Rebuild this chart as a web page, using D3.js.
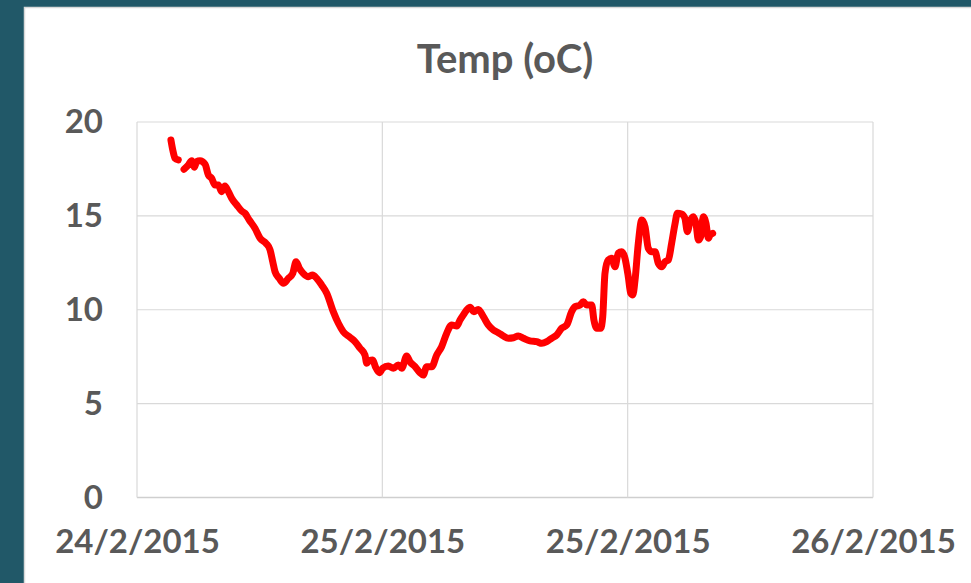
<!DOCTYPE html>
<html><head><meta charset="utf-8">
<script src="https://cdn.jsdelivr.net/npm/d3@7"></script>
<style>html,body{margin:0;padding:0;background:#215868;} svg{display:block}</style>
</head><body><svg id="c" width="971" height="583"></svg>
<script>
const title = "Temp (oC)";
// hours since 24/2/2015 00:00
const hours = [13.66,13.75,13.86,14.02,14.15,14.30,14.51,14.68,14.80,14.92,15.08,15.33,15.49,15.65,15.82,15.98,16.14,16.30,16.47,16.63,16.88,17.12,17.28,17.49,17.77,18.02,18.31,18.51,18.64,18.75,18.96,19.16,19.40,19.62,19.78,19.94,20.13,20.38,20.59,20.79,21.03,21.28,21.60,21.85,22.09,22.42,22.66,22.91,23.15,23.24,23.36,23.53,23.66,23.85,24.02,24.29,24.54,24.78,24.95,25.19,25.35,25.60,25.84,26.00,26.17,26.42,26.66,26.90,27.15,27.39,27.64,27.80,27.96,28.29,28.48,28.69,28.94,29.18,29.43,29.67,29.92,30.16,30.41,30.65,30.90,31.22,31.55,31.80,32.04,32.28,32.53,32.77,33.02,33.26,33.42,33.67,33.83,34.00,34.24,34.35,34.49,34.68,34.78,34.89,35.05,35.22,35.38,35.54,35.71,35.87,36.03,36.15,36.25,36.36,36.52,36.69,36.85,37.01,37.18,37.34,37.50,37.67,37.83,37.99,38.15,38.32,38.43,38.64,38.80,38.92,39.05,39.21,39.34,39.46,39.57,39.70,39.83,39.95,40.03,40.16];
const temps = [19.04,18.51,18.07,17.98,null,17.48,17.71,17.94,17.59,17.89,17.94,17.75,17.18,17.00,16.64,16.64,16.29,16.59,16.29,15.94,15.58,15.26,15.14,14.78,14.34,13.81,13.54,13.18,12.56,12.03,11.67,11.41,11.67,11.94,12.56,12.21,11.94,11.76,11.85,11.67,11.32,10.88,9.90,9.28,8.83,8.53,8.30,7.95,7.59,7.15,7.29,7.32,6.97,6.65,6.88,7.00,6.88,7.06,6.88,7.54,7.23,6.97,6.65,6.52,6.97,6.97,7.59,8.03,8.75,9.19,9.13,9.45,9.72,10.13,9.90,10.02,9.63,9.19,8.92,8.78,8.60,8.48,8.51,8.60,8.48,8.34,8.30,8.21,8.30,8.48,8.66,9.01,9.19,9.90,10.16,10.25,10.43,10.25,10.25,9.45,9.01,9.01,9.63,11.94,12.65,12.74,12.29,13.01,13.09,12.74,11.76,10.88,10.79,11.58,13.54,14.78,14.42,13.27,13.09,13.09,12.47,12.29,12.56,12.65,13.54,14.60,15.14,15.10,14.87,14.16,14.69,14.96,14.60,13.72,13.89,14.96,14.60,13.81,13.98,14.07];
const xTickHours = [12, 24, 36, 48];
const xTickLabels = ["24/2/2015", "25/2/2015", "25/2/2015", "26/2/2015"];
const yTicks = [0, 5, 10, 15, 20];

const base = new Date(2015, 1, 24, 0, 0, 0).getTime();
const toDate = h => new Date(base + h * 3600e3);
const data = hours.map((h, i) => ({t: toDate(h), v: temps[i]}));

const svg = d3.select("#c");
const W = 971, H = 583;
// white panel
svg.append("rect").attr("x", 24.5).attr("y", 7.5).attr("width", W).attr("height", H)
  .attr("fill", "#fff").attr("stroke", "#d9d9d9").attr("stroke-width", 1.5);

const m = {l: 137, r: 873, t: 122, b: 497.5};
const x = d3.scaleTime().domain([toDate(xTickHours[0]), toDate(xTickHours[3])]).range([m.l, m.r]);
const y = d3.scaleLinear().domain([0, 20]).range([m.b, m.t]);

const txt = "#595959";
const font = "Lato, 'Open Sans', sans-serif";

// grid
const g = svg.append("g");
g.selectAll("line.h").data(yTicks).join("line")
  .attr("x1", m.l).attr("x2", m.r).attr("y1", d => y(d)).attr("y2", d => y(d))
  .attr("stroke", d => d === 0 ? "#cfcfcf" : "#d9d9d9").attr("stroke-width", d => d === 0 ? 1.6 : 1.2);
g.selectAll("line.v").data(xTickHours).join("line")
  .attr("x1", d => x(toDate(d))).attr("x2", d => x(toDate(d))).attr("y1", m.t).attr("y2", m.b)
  .attr("stroke", "#d9d9d9").attr("stroke-width", 1.2);

// y axis labels
const yAxis = d3.axisLeft(y).tickValues(yTicks).tickSize(0).tickPadding(34);
const ya = svg.append("g").attr("transform", `translate(${m.l},0)`).call(yAxis);
ya.select(".domain").remove();
ya.selectAll("text").attr("fill", txt).style("font-family", font).style("font-weight", "bold").style("font-size", "33px");

// x axis labels
const xAxis = d3.axisBottom(x).tickValues(xTickHours.map(toDate)).tickSize(0).tickPadding(32)
  .tickFormat((d, i) => xTickLabels[i]);
const xa = svg.append("g").attr("transform", `translate(0,${m.b})`).call(xAxis);
xa.select(".domain").remove();
xa.selectAll("text").attr("fill", txt).style("font-family", font).style("font-weight", "bold").style("font-size", "33px");

// title
svg.append("text").attr("x", (m.l + m.r) / 2).attr("y", 73).attr("text-anchor", "middle")
  .attr("fill", txt).style("font-family", font).style("font-weight", "bold").style("font-size", "40px")
  .text(title);

// line
const line = d3.line().defined(d => d.v !== null).x(d => x(d.t)).y(d => y(d.v)).curve(d3.curveMonotoneX);
svg.append("path").datum(data).attr("d", line).attr("fill", "none")
  .attr("stroke", "#ff0000").attr("stroke-width", 7).attr("stroke-linejoin", "round").attr("stroke-linecap", "round");
</script></body></html>
